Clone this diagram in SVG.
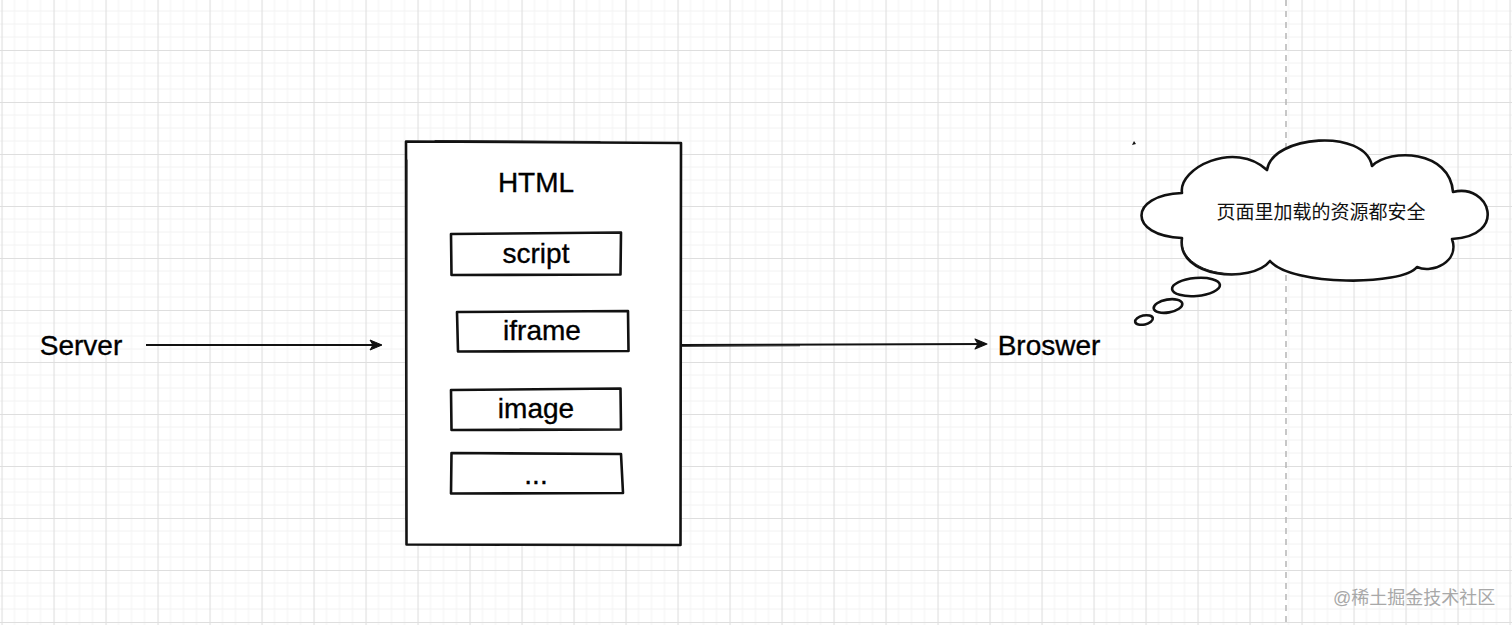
<svg xmlns="http://www.w3.org/2000/svg" width="1512" height="625" viewBox="0 0 1512 625">
  <defs>
    <pattern id="grid" x="1.5" y="-2" width="52" height="52" patternUnits="userSpaceOnUse">
      <path d="M13 0V52M26 0V52M39 0V52M0 13H52M0 26H52M0 39H52" stroke="#f2f2f2" stroke-width="1" fill="none"/>
      <path d="M0.5 0V52M0 0.5H52" stroke="#dedede" stroke-width="1.2" fill="none"/>
    </pattern>
    <marker id="arrow" viewBox="0 0 14 12" refX="12" refY="6" markerWidth="14" markerHeight="12" markerUnits="userSpaceOnUse" orient="auto">
      <path d="M1 1 L13 6 L1 11 L4 6 Z" fill="#111" stroke="#111" stroke-width="1" stroke-linejoin="round"/>
    </marker>
    <style>
      .sk { fill: #fff; stroke: #111; stroke-width: 2.6; stroke-linejoin: round; stroke-linecap: round; }
      .sk2 { fill: none; stroke: #222; stroke-width: 1; stroke-linecap: round; }
      .lbl { font-family: "Liberation Sans", Arial, sans-serif; font-size: 28px; fill: #000; stroke: #000; stroke-width: 0.35; text-anchor: middle; }
      .cn { font-family: "Liberation Sans", "Noto Sans CJK SC", sans-serif; font-size: 19px; fill: #111; text-anchor: middle; }
      .wm { font-family: "Liberation Sans", "Noto Sans CJK SC", sans-serif; font-size: 18px; fill: #a8a8a8; }
      .conn { stroke: #111; stroke-width: 1.8; fill: none; }
    </style>
  </defs>

  <rect width="1512" height="625" fill="#fff"/>
  <rect width="1512" height="625" fill="url(#grid)"/>
  <line x1="1286" y1="0" x2="1286" y2="625" stroke="#b5b5b5" stroke-width="1.5" stroke-dasharray="6 5"/>

  <g id="server">
    <text class="lbl" x="81" y="355">Server</text>
  </g>

  <g id="html">
    <path class="sk" d="M406 141.5 L681 143 L680.5 545 L406.5 544.5 Z"/>
    <path class="sk2" d="M435 140.5 L600 141.5 M407 160 L406 520 M500 545.5 L670 545"/>
    <text class="lbl" x="536" y="192">HTML</text>
  </g>

  <g id="script">
    <path class="sk" d="M451 234 L621 232.5 L620.5 274.5 L451.5 275 Z"/>
    <path class="sk2" d="M600 233 L620 232.8"/>
    <text class="lbl" x="536" y="263">script</text>
  </g>

  <g id="iframe">
    <path class="sk" d="M457 312 L628 311 L628.5 351 L458 351.5 Z"/>
    <text class="lbl" x="542" y="340">iframe</text>
  </g>

  <g id="image">
    <path class="sk" d="M451 390 L620.5 388.5 L621 429.5 L451.5 430 Z"/>
    <path class="sk2" d="M520 429 L620 429.3"/>
    <text class="lbl" x="536" y="418">image</text>
  </g>

  <g id="more">
    <path class="sk" d="M451.5 453 L621 454 L623 493 L451 493.5 Z"/>
    <text class="lbl" x="536" y="484">...</text>
  </g>

  <g id="browser">
    <text class="lbl" x="1049" y="355">Broswer</text>
  </g>

  <g id="thought">
    <path class="sk" d="M1182 193 C1178 168 1235 140 1267 170 C1272 135 1365 128 1372 166 C1390 148 1450 150 1453 192 C1490 183 1508 236 1452 239 C1460 262 1432 274 1417 267 C1402 286 1292 286 1270 261 C1252 284 1176 278 1182 238 C1128 236 1128 195 1182 193 Z"/>
    <path class="sk2" d="M1182 240 C1180 262 1210 276 1240 274"/>
    <ellipse class="sk" cx="1196" cy="287" rx="24" ry="9" stroke-width="3" transform="rotate(-5 1196 287)"/>
    <ellipse class="sk" cx="1168" cy="306" rx="14.5" ry="6.5" stroke-width="3" transform="rotate(-10 1168 306)"/>
    <ellipse class="sk" cx="1144" cy="320" rx="9" ry="4.5" stroke-width="3" transform="rotate(-12 1144 320)"/>
    <path d="M1132 145 L1134 141 L1136 144 Z" fill="#111"/>
    <text class="cn" x="1321" y="219">页面里加载的资源都安全</text>
  </g>

  <g id="connectors">
    <line class="conn" x1="146" y1="345" x2="381" y2="345" marker-end="url(#arrow)"/>
    <path class="conn" d="M681 345 L986 344" marker-end="url(#arrow)"/>
    <path d="M681 346.5 L800 345.8" stroke="#111" stroke-width="0.8" fill="none"/>
  </g>

  <text class="wm" x="1333" y="604">@稀土掘金技术社区</text>
</svg>
